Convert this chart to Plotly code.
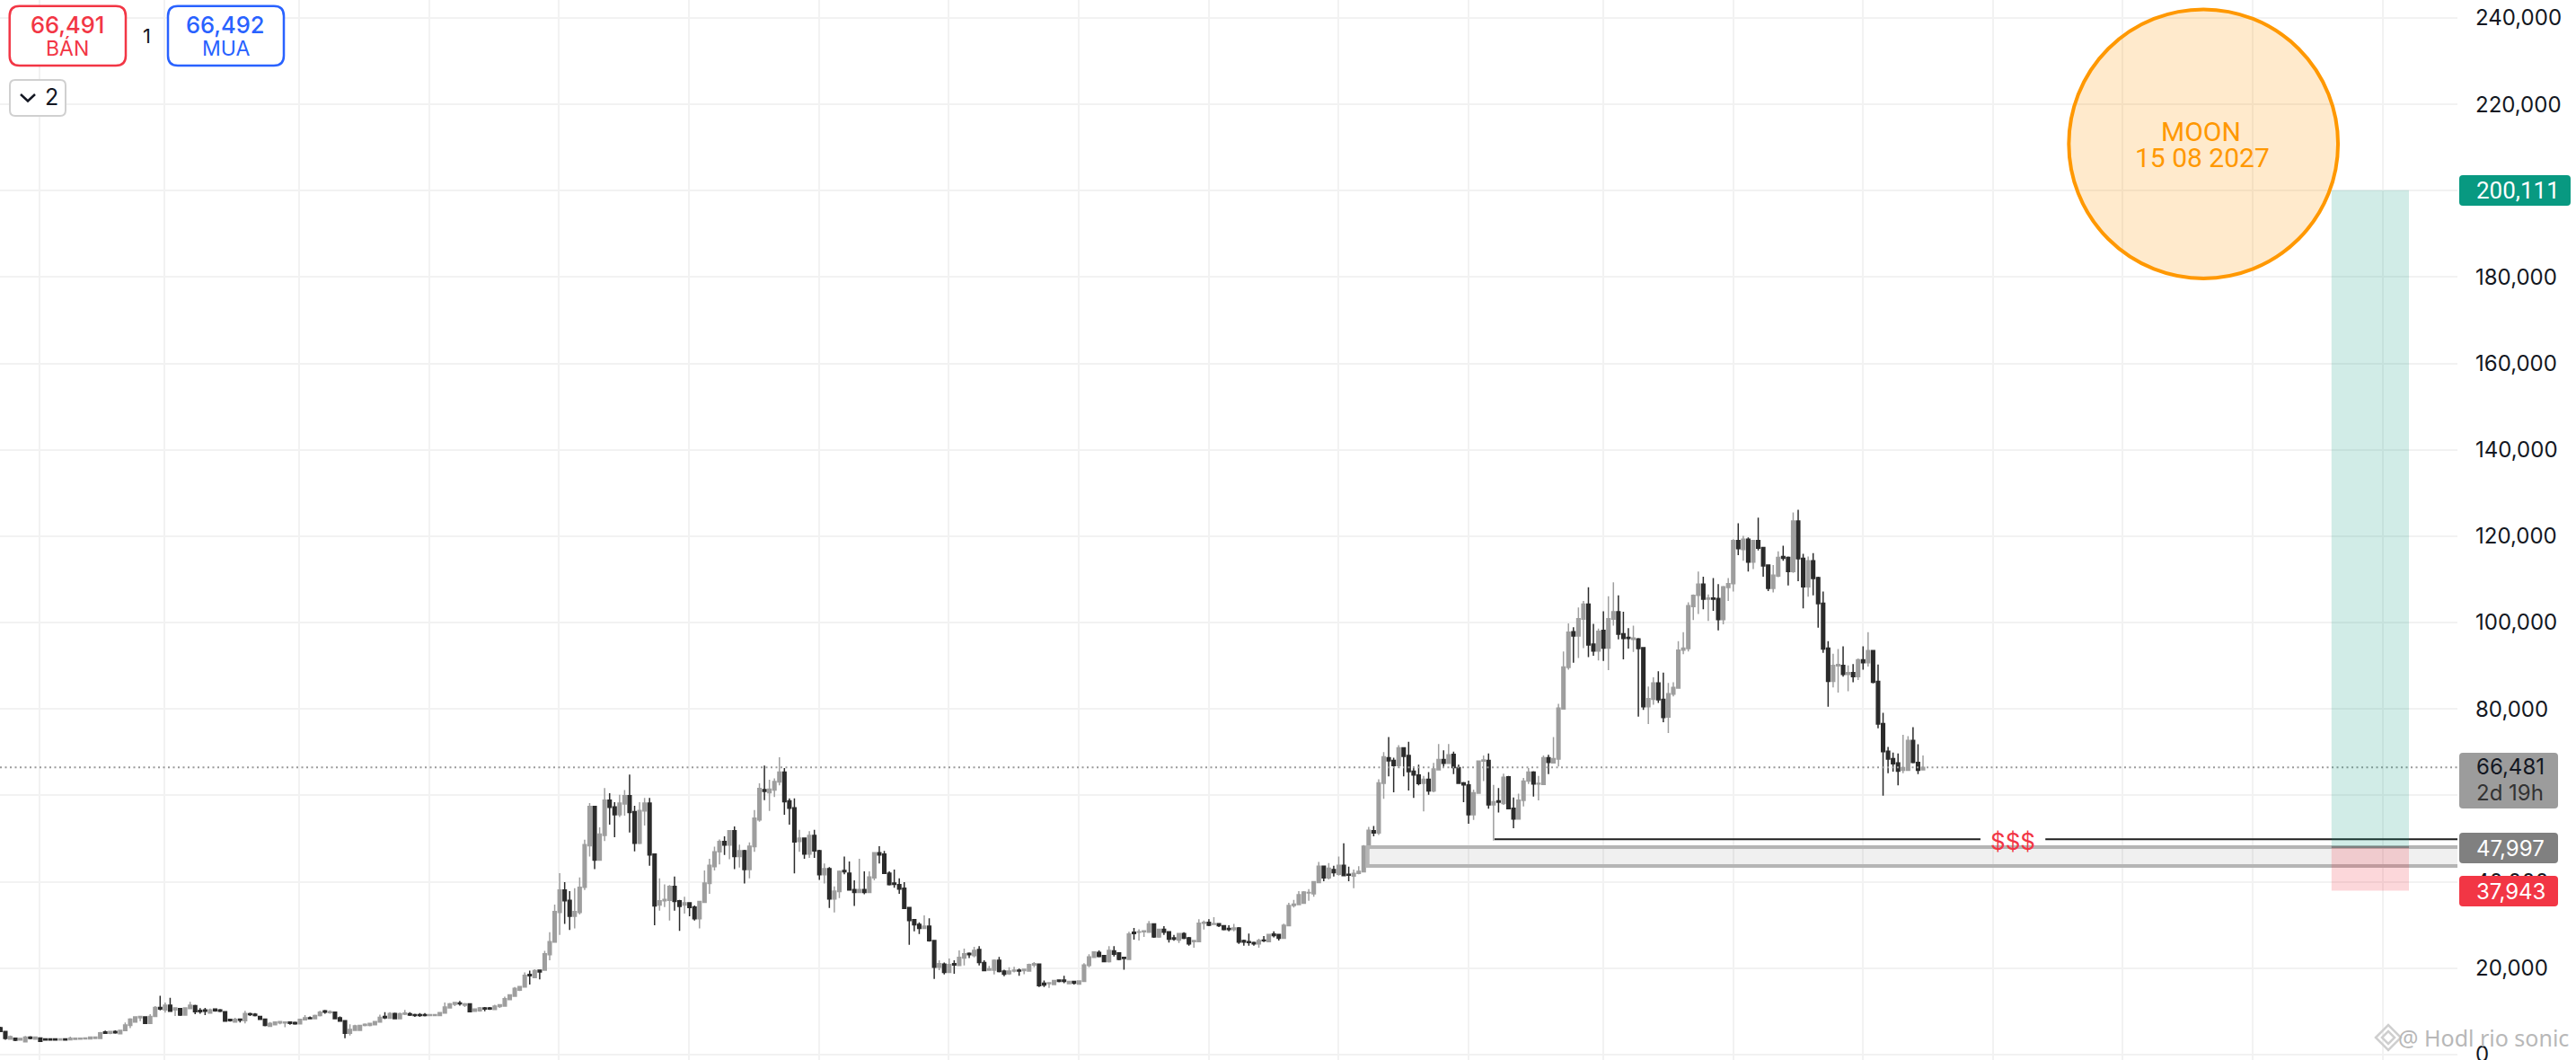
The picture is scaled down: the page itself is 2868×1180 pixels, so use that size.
import plotly.graph_objects as go

# weekly candles in thousands of USD, newest first
opens = [
    65.9,67.6,72.7,65.8,65.8,67.5,68.5,70.2,76.6,86.4,93.5,90.7,91.4,87.5,88.4,88,90.1,90,86.4,94.1,
    104.5,110.4,114.3,108.3,114.9,123.5,111.8,115.1,115.3,110.8,107.9,113.3,117.4,119,114,119.3,116.9,119,109,108.1,
    100.7,105.6,105.7,105.4,108.9,106.3,103.7,94,93.6,84.8,83.4,78.1,82.2,86,82.2,
    80.5,94.2,96.2,96.1,96.6,97.4,102.5,100.8,94.1,98.2,93.4,95,104.3,100.8,96.9,97.9,89.6,80,68.4,67.5,
    68.7,62.5,62.6,65.4,63.3,58.8,54.5,57,64.3,58.1,58.7,57.8,68.1,67.9,60.5,55.5,62.4,62.9,66.4,69.5,
    67.4,68.3,65.9,61,63.7,62.8,64.7,65.6,69.2,71,66.9,68.1,68.7,62.8,51.3,51.8,47.9,42.3,
    41.9,41.3,41.7,43.8,41.7,42.8,40.9,43.6,39.8,37.2,37.4,35,34.7,34.5,29.8,26.9,27.8,27.9,26.1,26.5,
    25.6,25.9,26.1,26.4,29.3,28.9,29.2,29.8,30.3,30.1,30.6,30.4,26.1,26.1,27,28,26.5,27,28.4,29,
    27.2,30.2,28.3,28.4,28.3,28.3,22,22.5,23.5,24,21.5,22.9,23.6,22.5,20.6,16.9,16.3,
    16.9,16.4,17.2,17.2,16.2,16.4,16.5,20.9,20.7,19.3,19.4,19.5,19.3,18.7,19.3,21.8,19.5,19.5,21.3,24.3,
    22.9,23.4,22.3,20.6,21,19,20.9,20.2,26.4,29.7,29.2,30.1,31.2,34,38.5,39.3,39.7,42,46.4,46.7,
    40.9,37.5,38.2,37.5,38.2,
    42,42.6,37.7,36,43,41.6,47.2,50.7,46.4,50.1,49.3,57.1,58.7,65.4,63.1,61.2,60.6,61.3,54.3,48.1,
    42.8,47.2,45.8,51.8,48.5,49.3,46.9,43.5,39.6,35.2,31.4,34.1,35.1,34.6,35.6,38.9,35.7,35.6,34.6,46.4,
    58.2,56.4,48.9,56.2,59.9,58,55.5,57.3,58.9,50.7,45,57.4,48.3,38.7,32.9,32,35.7,38.1,32.9,26,23.1,19.5,
    19.5,17.8,18.5,15.6,14.9,13.5,12.7,11.2,11.1,10.4,10.8,10.8,10.1,10,11.7,11.4,11.9,11.6,10.8,9.6,
    9,9,9,9.2,9.2,9.2,9.4,9.3,8.3,9.5,8.4,8.8,7.5,6.9,6.7,6.7,5.6,5.6,4.9,7.8,
    8.5,9.8,9.7,10.1,9,8.3,8.5,8,7.1,7.4,7.5,7.3,7.3,6.9,6.5,8.2,8.8,9.3,9.4,7.8,
    8.2,7.5,8.1,9.9,10.3,10.5,9.6,10.3,10.2,11.3,10.6,9.1,10.6,10.3,11.4,10.3,10.9,8.8,7.2,8.7,
    8.5,7.5,6.7,5.5,4.8,5.3,4.9,5.2,3.7,3.7,3.6,3.6,3.55,3.5,3.4,3.6,3.35,3.6,3.6,3.6,
    3.8,3.55,4,2.9,3.35,3.75,3.55,5.3,6.2,
]
highs = [
    69.2,71.8,75.8,73.7,74,69.7,69.9,71.2,79.1,90.3,93.6,97.8,94.5,91.7,90.4,90.1,94.5,93.9,92.8,95.7,
    107.2,110.6,116.1,115.3,115.9,126.1,125.5,115.3,117.8,116.5,113.3,113.4,117.4,124.3,119.1,119.7,120.1,123,119.3,110.3,
    108.5,108.9,110.3,106.5,110.6,111.8,106.5,104.7,97.8,95.7,86.2,86,88.4,88.7,87.3,
    85.2,94.3,96.4,99.3,98.7,102.5,106.3,109.3,106.1,102.6,98.6,99.7,108.2,105,103.5,98.9,99.8,93.3,81.2,73.5,
    69.4,69.2,64.5,65.6,66.3,64,60.4,59.5,64.5,65,61.7,62.4,69.7,69.2,68.1,61.3,63.4,63.1,67.1,70.1,
    71.9,70.4,71.9,67.5,65.4,64.5,67.1,66.6,72.4,71.1,71.6,68.7,73.5,70,63.7,52.9,52.7,48.5,
    43.6,42.8,43.5,48.9,45.8,43.7,44.3,43.7,44.6,40.1,38.3,37.8,37.8,35.8,35.1,30.3,27.8,28.5,27.8,27.4,
    26.8,26.1,28,26.6,29.5,30.2,29.9,29.9,30.4,31.8,31.3,31,31.3,26.5,27.2,28.3,28,27.7,28.5,29.7,
    29,30.4,30.9,28.7,29,29.3,28.4,22.5,23.6,25.1,25.1,23,24.1,23.9,23.2,21.1,17.1,
    16.9,17,18.2,17.2,17.2,16.6,17.1,21,21.4,21,19.9,19.9,20.3,20.2,19.6,22.6,22,20.5,21.8,25.1,
    24.9,23.6,24.5,24.1,21.8,22.2,21.3,21.8,26.5,31.5,32.2,30.6,31.3,34.1,39.9,40.8,42.8,42.4,47.1,48.2,
    46.7,42.4,42.4,45.3,40.3,
    44.7,45.8,42.6,38.9,43.4,44.2,47.4,52,51.7,50.1,52,59.3,59.3,66.3,68.8,63.9,63.6,66.9,62.8,56.6,
    49.1,47.4,48.6,52.8,51.9,50.5,49.8,48.1,45.3,42.6,35.4,34.5,35.1,36.5,35.8,41.2,39.2,39.4,40.8,46.5,
    59.4,59.4,58.4,57.6,64.8,61.2,60.1,58.4,60.5,61.7,52.6,57.4,58.2,49.7,41,38.5,37.8,39.9,42,34.7,28.3,24,
    19.5,19.7,19.4,19,15.8,15.6,13.9,13.4,11.5,11.5,11,11,11,10.6,11.8,11.9,12.4,12.2,11.9,12,
    9.8,9.3,9.2,9.6,9.6,9.4,9.8,10.3,9.7,9.7,9.8,9.8,9.2,7.7,7.3,7.2,6.9,6.9,7,7.8,
    8.8,9.9,10.2,10.3,10.1,9.2,8.8,9.1,8.2,7.6,7.6,7.6,7.7,7.6,7.5,8.3,8.9,9.6,9.7,10.1,
    8.3,8.5,8.2,9.9,10.5,10.6,10.6,10.8,10.7,11.5,12.2,10.9,10.7,10.9,13.1,12,13.6,11.2,9.3,8.8,
    8.9,8.8,8.4,7.4,5.7,5.6,5.4,5.5,5.2,4.1,4.1,3.9,3.8,3.8,4.1,3.7,3.65,3.65,3.65,3.65,
    3.9,4.1,4.2,4.3,3.8,3.9,4.4,5.4,6.4,
]
lows = [
    65.8,64.9,67.4,65.8,65.1,62.3,65.5,65.1,59.9,75.5,85.9,89.8,89.1,86.7,86.2,84.1,87.5,83.8,85,80.5,
    93,98.8,106.3,106,103.3,109.6,111.5,108.6,114.3,110.5,107,107.3,110.6,116.7,112.4,111.8,114.3,115.6,107.2,105,
    99.6,98.2,102.7,100.4,103.1,102,100.6,93.3,92.7,84.8,82.9,74.4,76.9,81.4,81,
    76.5,79.8,78.2,93.2,94,91.5,96.1,99.3,89,91.1,91.2,92.3,92,94.1,91.8,90.7,89.1,80,66.7,67.5,
    64.9,62.4,58.8,59.7,62.6,57.4,54.5,52.4,56.9,57.8,56,49.5,56.9,63.3,60.5,54.3,53.4,58.4,62.8,64.9,
    67.4,66.3,65.9,60.7,60.1,56.3,62.3,59.4,61.1,64.4,66.3,60.7,64.4,59.2,50.8,50.5,47.5,42.3,
    41.7,38.5,40.1,41.4,41.4,41.2,40.5,40.1,39.8,36.5,35.6,34.9,34.7,34,29.8,26.9,26.4,27.1,26.1,26,
    24.7,25.2,25.2,25.2,25.6,28.5,28.5,28.7,29.5,30.1,29.7,28.9,26.1,24.7,25.2,26.7,25.8,26.3,25.9,27.7,
    27,27,28.3,27.2,26.4,26.6,22,19.6,21.8,22.7,21.3,21.5,22.5,22.3,20.2,16.9,16.3,
    16.2,16.3,16.5,16.7,16.1,15.4,15.6,15.6,20.2,19.2,18.6,18.2,19,18.4,18.1,19,18.5,19.4,19.3,20.6,
    22.5,22.3,20.6,20.6,18.7,19,18.5,19.5,17.5,26.1,29.2,27.9,28.5,25.4,33.8,37.2,38.6,39.1,41.9,44.2,
    40.3,37.5,37.1,37.5,34.4,
    37.9,41.7,36.2,32.9,33.9,39.6,40.4,45.5,45.5,45.3,46.9,41.9,53.2,55.5,62.3,59.6,56.4,58.9,53.9,46.9,
    40.8,39.6,43.3,42.9,45.2,46.2,44,42.6,37.2,35.2,29.2,31,32,32.6,28.6,33.3,31,34.1,33.3,29.9,
    43.7,53,48.7,47,51.4,55.3,55,50.3,53.2,49.4,45,42.9,45.8,38.1,32.4,29.2,28.8,30.2,27.7,26,21.8,19.5,
    17.4,17.7,16.2,15.6,14.7,13.3,12.6,11.2,10.8,10.3,10.3,10,9.9,9.9,9.8,11,11.3,11.2,10.7,9.4,
    8.9,8.9,8.9,8.8,8.7,8.7,8.9,9.1,8.2,8.3,8.3,8.2,7.4,6.7,6.5,6.5,5.6,5.6,4.4,3.75,
    7.6,8.3,9.4,9.4,8.8,8.3,8.1,7.9,7,6.9,6.9,6.3,7,6.7,6.5,6.5,8,8.8,8.9,7.2,
    7.4,7.4,7.6,7.6,9.8,9.9,9.5,9.1,9.4,9.3,10.5,9,8.9,8.9,9.9,9.7,10.2,8.7,7.2,7.2,
    7.7,7.4,6.1,5.4,4.7,4.8,4.7,4.8,3.7,3.6,3.5,3.5,3.5,3.45,3.4,3.3,3.3,3.3,3.3,3.3,
    3,3.4,3.5,2.85,3.3,3.1,3.5,3.4,5.2,
]
closes = [
    66.48,65.8,67.6,72.7,66.4,65.6,67.3,68.4,70.1,76.5,86.2,93.5,90.7,91.4,87.5,88.4,88,90.3,90.1,86.4,
    93.9,104.4,110.2,114.3,108.3,114.8,123.5,111.8,114.9,115.1,111,107.9,113.1,117.2,119,114,119.3,117.1,119,109,
    108.3,100.7,105.4,105.7,105.4,108.9,106.3,103.9,94.1,93.6,85,83.5,78,82.1,86,
    82.4,80.5,94,96.4,96.3,96.3,97.3,102.5,100.9,94.1,98,93.4,94.8,104.3,100.9,96.9,97.8,89.7,80.2,68.5,
    67.6,68.7,62.8,62.6,65.4,63.3,58.9,54.5,56.9,64.2,58.4,58.5,57.8,68.2,67.9,60.6,55.5,62.4,62.8,66.4,
    69.4,67.4,68.3,66.1,61,63.7,62.7,64.7,65.5,69,71,66.9,68,68.9,62.9,51.3,51.9,48.2,
    42.4,41.9,41.5,41.4,43.8,42.1,43.1,40.9,43.6,40,37.5,37.6,37,34.8,34.5,29.9,26.9,27.5,27.8,26.3,
    26.4,25.6,25.9,26,26,29.3,28.9,28.9,29.8,30.3,29.9,30.6,30.4,26.4,25.6,26.9,28,26.7,26.7,28.3,
    29,27.2,30.2,28.6,28.4,28,27.9,22.2,22,23.2,24.1,21.5,22.7,23.7,22.6,20.7,17,
    16.5,16.9,16.9,16.9,17.1,16.6,16.1,15.9,21,20.8,19.7,19.3,19.5,19.3,18.6,19.2,21.8,19.8,19.4,21.3,
    24.1,23.1,23.3,22.5,20.7,20.8,19,21,20.2,26.3,29.7,29.2,30,31,33.8,38.3,39.4,39.3,41.9,46.2,
    46.7,41.1,37.5,38.2,37.5,
    38.1,42.3,42.4,37.8,36,43,41.6,47.1,50.7,46.4,50.1,49.2,57,58.5,65.4,63.2,61.4,60.9,61.6,54.7,
    48.2,42.8,47.2,45.8,51.8,48.5,49.3,46.9,43.8,39.7,35.4,31.4,34,35.1,34.3,35.4,38.9,35.9,35.6,34.4,
    46.2,58.2,56.5,48.9,56,59.9,58.2,55.5,57.2,58.9,51,45,57.4,48.6,38.7,33.1,32,35.6,38.1,33.1,26.1,23.3,
    19.1,19.4,18.2,18.3,15.7,15.3,13.8,12.9,11.5,11.2,10.5,10.5,10.8,10.5,9.9,11.7,11.7,12,11.7,11,
    9.7,9.2,9.2,9,9,9,9.1,9.6,9.4,8.3,9.5,8.5,8.6,7.6,7.2,7,6.7,6.6,5.8,4.9,
    7.7,8.3,9.9,9.8,9.8,9,8.3,8.5,8.1,7.1,7.2,7.5,7.6,7.5,7.2,6.7,8.1,9,9.2,9.5,
    7.9,8.1,7.8,7.7,10,10.1,10.3,10,9.9,9.9,11.4,10.8,9.1,10.8,10,11.4,10.5,10.9,8.8,7.2,
    8.8,8.7,8.2,6.8,5.6,5,5.3,4.9,5,4,4,3.8,3.75,3.75,3.75,3.35,3.6,3.35,3.35,3.35,
    3.05,4,3.7,4,3.7,3.3,4.1,3.7,5.3,
]

# drawn levels (USD)
last_price = 66481
bid_price = "66,491"
ask_price = "66,492"
target_price = 200111
entry_price = 47997
stop_price = 37943
zone_top = 48000
zone_bottom = 43650
swing_low = 49850
yticks = list(range(0, 240001, 20000))

# weeks before the last candle (negative = future)
grid_weeks = [377.2,352.2,325.2,299.1,273.2,247.1,221,195.1,169.1,143,117.1,91,64,37.9,12.1,-14,-39.9,-66,-92.1]
zone_start = 111.2
swing_start = 85.8
dollar_gap = (-11.5, -24.5)
position_weeks = (-81.8, -97.3)
moon_weeks = (-29.2, -83.1)
moon_prices = (179700, 242000)

W, H = 2868, 1180
PLOT_W = 2736
STEP = 5.56       # px per candle
LAST_PX = 2141

n = len(opens)
x = list(range(n))
wk = lambda back: n - 1 - back
xmin = wk(LAST_PX / STEP)
xmax = wk((LAST_PX - PLOT_W) / STEP)
ymin = (1173.8 - H) / 4.8075 * 1000
ymax = 1173.8 / 4.8075 * 1000

px = lambda v: v / PLOT_W
py = lambda v: 1 - v / H

UP = "#9e9e9e"
DOWN = "#2b2b2b"
GRID = "#f2f2f2"
RED = "#f23645"
BLUE = "#2962ff"
TEAL = "#089981"
ORANGE = "#ff9800"
TEXT = "#131722"

fig = go.Figure()
fig.add_trace(go.Candlestick(
    x=x,
    open=[v * 1000 for v in reversed(opens)],
    high=[v * 1000 for v in reversed(highs)],
    low=[v * 1000 for v in reversed(lows)],
    close=[v * 1000 for v in reversed(closes)],
    increasing=dict(line=dict(color=UP, width=1.5), fillcolor=UP),
    decreasing=dict(line=dict(color=DOWN, width=1.5), fillcolor=DOWN),
    whiskerwidth=0,
))


def rbox(x0, y0, x1, y1, r, fill, line=None, lw=0):
    path = (f"M {px(x0 + r)} {py(y0)} L {px(x1 - r)} {py(y0)} Q {px(x1)} {py(y0)} {px(x1)} {py(y0 + r)} "
            f"L {px(x1)} {py(y1 - r)} Q {px(x1)} {py(y1)} {px(x1 - r)} {py(y1)} "
            f"L {px(x0 + r)} {py(y1)} Q {px(x0)} {py(y1)} {px(x0)} {py(y1 - r)} "
            f"L {px(x0)} {py(y0 + r)} Q {px(x0)} {py(y0)} {px(x0 + r)} {py(y0)} Z")
    fig.add_shape(type="path", path=path, xref="paper", yref="paper", fillcolor=fill,
                  line=dict(color=line or fill, width=lw), layer="above")


def label(x0, y0, text, size, color, anchor="center", weight=None, family="Inter"):
    fig.add_annotation(x=px(x0), y=py(y0), xref="paper", yref="paper", text=text, showarrow=False,
                       xanchor=anchor, yanchor="middle",
                       font=dict(family=family, size=size, color=color, weight=weight))


# last price dotted line
fig.add_shape(type="line", x0=xmin, x1=xmax, y0=last_price, y1=last_price, layer="above",
              line=dict(color="#9a9a9a", width=2, dash="2px,3.5px"))

# grey zone
fig.add_shape(type="rect", x0=wk(zone_start), x1=xmax + 5, y0=zone_bottom, y1=zone_top, layer="above",
              fillcolor="rgba(120,120,120,0.11)", line=dict(color="#b5b5b5", width=4))

# swing low line with the gap for the text
fig.add_shape(type="line", x0=wk(swing_start), x1=wk(dollar_gap[0]), y0=swing_low, y1=swing_low, layer="above",
              line=dict(color="#1f1f1f", width=2))
fig.add_shape(type="line", x0=wk(dollar_gap[1]), x1=xmax, y0=swing_low, y1=swing_low, layer="above",
              line=dict(color="#1f1f1f", width=2))
fig.add_annotation(x=wk(-18), y=swing_low, text="$$$", showarrow=False, yshift=-2,
                   font=dict(family="Inter", size=26, color=RED))

# long position box
fig.add_shape(type="rect", x0=wk(position_weeks[0]), x1=wk(position_weeks[1]), y0=entry_price, y1=target_price,
              fillcolor="rgba(8,153,129,0.19)", line=dict(width=0), layer="above")
fig.add_shape(type="rect", x0=wk(position_weeks[0]), x1=wk(position_weeks[1]), y0=stop_price, y1=entry_price,
              fillcolor="rgba(242,54,69,0.2)", line=dict(width=0), layer="above")
fig.add_shape(type="line", x0=wk(position_weeks[0]), x1=wk(position_weeks[1]), y0=entry_price, y1=entry_price,
              line=dict(color="#808080", width=2), layer="above")

# moon circle
fig.add_shape(type="circle", x0=wk(moon_weeks[0]), x1=wk(moon_weeks[1]), y0=moon_prices[0], y1=moon_prices[1],
              fillcolor="rgba(255,152,0,0.2)", line=dict(color=ORANGE, width=4), layer="above")
label(2450, 147, "MOON", 30, ORANGE, family="Roboto")
label(2452, 175, "15 08 2027", 30, ORANGE, family="Roboto")

# price tags on the scale
rbox(2738, 838, 2848, 900, 4, "#9c9c9c")
label(2755, 853, "66,481", 24, TEXT, "left")
label(2755, 882, "2d 19h", 24, "#333333", "left")
rbox(2738, 927, 2848, 961, 4, "#808080")
label(2755, 944, "47,997", 24, "#ffffff", "left")
rbox(2738, 975, 2848, 1009, 4, RED)
label(2755, 992, "37,943", 24, "#ffffff", "left")
rbox(2738, 195, 2862, 229, 4, TEAL)
label(2755, 212, "200,111", 26, "#ffffff", "left", family="Roboto")

# buy / sell buttons
rbox(10.7, 6.7, 140, 73, 11, "#ffffff", RED, 2.5)
rbox(187, 6.7, 316, 73, 11, "#ffffff", BLUE, 2.5)
label(75, 27, bid_price, 25.5, RED, weight=500)
label(75, 54, "BÁN", 23, RED)
label(251, 27, ask_price, 25.5, BLUE, weight=500)
label(251, 54, "MUA", 23, BLUE)
label(163, 40, "1", 22, TEXT)
rbox(11, 89, 73, 129, 6, "#ffffff", "#d0d0d0", 2)
fig.add_shape(type="path", xref="paper", yref="paper", layer="above", line=dict(color=TEXT, width=2.5),
              path=f"M {px(23)} {py(105)} L {px(31)} {py(112.5)} L {px(39)} {py(105)}")
label(57, 108, "2", 25, TEXT)

# watermark
wm_x, wm_y = 2659, 1155
for r in (14, 7):
    fig.add_shape(type="path", xref="paper", yref="paper", layer="above", line=dict(color="#cfcfcf", width=2.5),
                  path=f"M {px(wm_x - r)} {py(wm_y)} L {px(wm_x)} {py(wm_y - r)} L {px(wm_x + r)} {py(wm_y)} "
                       f"L {px(wm_x)} {py(wm_y + r)} Z")
label(2862, 1155, "@ Hodl rio sonic", 25, "#b8b8b8", "right", family="Noto Sans")

fig.update_layout(
    width=W, height=H,
    margin=dict(l=0, r=W - PLOT_W, t=0, b=0, autoexpand=False),
    paper_bgcolor="#ffffff", plot_bgcolor="#ffffff",
    showlegend=False, boxgap=0.2, boxgroupgap=0.2,
    xaxis=dict(range=[xmin, xmax], tickvals=[wk(v) for v in grid_weeks], showticklabels=False,
               showgrid=True, gridcolor=GRID, gridwidth=2, zeroline=False, ticks="", showline=False,
               rangeslider=dict(visible=False)),
    yaxis=dict(range=[ymin, ymax], side="right", tickvals=yticks, tickformat=",", showgrid=True,
               gridcolor=GRID, gridwidth=2, zeroline=False, ticks="", showline=False, ticklabelstandoff=19,
               ticklabeloverflow="allow", tickfont=dict(family="Inter", size=24, color=TEXT)),
)

fig.write_html("out.html", post_script="document.body.style.margin='0';", config=dict(displayModeBar=False))
